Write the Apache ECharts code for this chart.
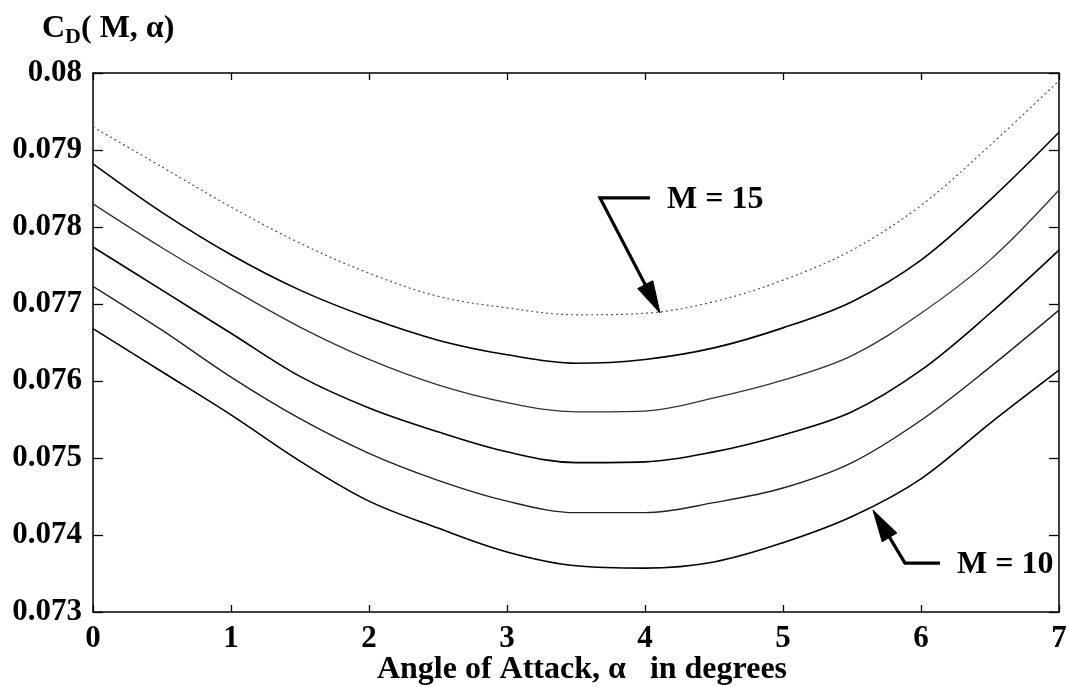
<!DOCTYPE html>
<html>
<head>
<meta charset="utf-8">
<script src="https://cdn.jsdelivr.net/npm/echarts@6/dist/echarts.min.js"></script>
<style>
html,body{margin:0;padding:0;background:#fff;}
#main{width:1069px;height:687px;}
</style>
</head>
<body>
<div id="main"></div>
<script>
// ---- data ----
const alpha = [0, 0.5, 1, 1.5, 2, 2.5, 3, 3.5, 4, 4.5, 5, 5.5, 6, 6.5, 7];
const cdM15 = [0.07930, 0.07878, 0.07826, 0.07779, 0.07740, 0.07710, 0.07695, 0.07686, 0.07688, 0.07703, 0.07731, 0.07770, 0.07828, 0.07906, 0.07990];
const cdM14 = [0.07882, 0.07819, 0.07764, 0.07718, 0.07682, 0.07653, 0.07634, 0.07623, 0.07628, 0.07643, 0.07669, 0.07703, 0.07757, 0.07835, 0.07923];
const cdM13 = [0.07830, 0.07773, 0.07720, 0.07670, 0.07628, 0.07595, 0.07572, 0.07560, 0.07561, 0.07578, 0.07601, 0.07633, 0.07688, 0.07757, 0.07848];
const cdM12 = [0.07774, 0.07718, 0.07662, 0.07606, 0.07565, 0.07534, 0.07508, 0.07494, 0.07495, 0.07508, 0.07530, 0.07560, 0.07614, 0.07688, 0.07770];
const cdM11 = [0.07723, 0.07666, 0.07605, 0.07551, 0.07506, 0.07471, 0.07444, 0.07429, 0.07429, 0.07442, 0.07461, 0.07494, 0.07549, 0.07618, 0.07692];
const cdM10 = [0.07668, 0.07612, 0.07556, 0.07496, 0.07444, 0.07409, 0.07378, 0.07360, 0.07357, 0.07365, 0.07390, 0.07424, 0.07473, 0.07545, 0.07614];
const xTicks = [0, 1, 2, 3, 4, 5, 6, 7];
const yRange = [0.073, 0.080];
// annotations: label, elbow end (text side), elbow corner, arrow tip  (data units)
const annoLabels = ['M = 15', 'M = 10'];
const annoEnd = [[4.036, 0.078377], [6.138, 0.073636]];
const annoCorner = [[3.674, 0.078377], [5.884, 0.073636]];
const annoTip = [[4.109, 0.076883], [5.652, 0.074325]];

const FONT = '"Liberation Serif", "Times New Roman", serif';
function pairs(ys){ return alpha.map((x,i)=>[x, ys[i]]); }

const chart = echarts.init(document.getElementById('main'), null, {renderer:'canvas'});
const axisLine = {show:true, onZero:false, lineStyle:{color:'#000', width:1.5}};
const tickX = {show:true, inside:true, length:7, lineStyle:{color:'#000', width:1.3}};
const tickY = {show:true, inside:true, length:10, lineStyle:{color:'#000', width:1.3}};
function mkSeries(name, ys, color, width, type){
  return {name, type:'line', data:pairs(ys), xAxisIndex:0, yAxisIndex:0, showSymbol:false,
    smooth:0.35, animation:false, silent:true,
    lineStyle:{color, width, type}};
}
const option = {
  animation:false,
  backgroundColor:'#fff',
  title:{
    text:'C{sub|D}( M, α)',
    left:37, top:5,
    textStyle:{fontFamily:FONT, fontSize:32, fontWeight:'bold', color:'#000',
      rich:{sub:{fontFamily:FONT, fontSize:22, fontWeight:'bold', color:'#000', verticalAlign:'bottom', padding:[16,0,0,0]}}}
  },
  grid:{left:93, right:10, top:73, bottom:75, containLabel:false, outerBoundsMode:'none'},
  xAxis:[
    {type:'value', min:0, max:7, interval:1, position:'bottom',
     axisLine, axisTick:tickX,
     axisLabel:{fontFamily:FONT, fontSize:31, fontWeight:'bold', color:'#000', margin:11},
     splitLine:{show:false},
     name:'Angle of Attack, α   in degrees', nameLocation:'middle', nameGap:42, nameMoveOverlap:false,
     nameTextStyle:{fontFamily:FONT, fontSize:32, fontWeight:'bold', color:'#000', padding:[0,0,0,12]}},
    {type:'value', min:0, max:7, interval:1, position:'top',
     axisLine, axisTick:tickX,
     axisLabel:{show:false}, splitLine:{show:false}}
  ],
  yAxis:[
    {type:'value', min:yRange[0], max:yRange[1], interval:0.001, position:'left',
     axisLine, axisTick:tickY,
     axisLabel:{fontFamily:FONT, fontSize:31, fontWeight:'bold', color:'#000', margin:11,
       formatter:v=>String(+v.toFixed(3))},
     splitLine:{show:false}},
    {type:'value', min:yRange[0], max:yRange[1], interval:0.001, position:'right',
     axisLine, axisTick:tickY,
     axisLabel:{show:false}, splitLine:{show:false}}
  ],
  series:[
    mkSeries('M=15', cdM15, '#555', 1.2, [2,3]),
    mkSeries('M=14', cdM14, '#000', 1.6, 'solid'),
    mkSeries('M=13', cdM13, '#333', 1.3, 'solid'),
    mkSeries('M=12', cdM12, '#000', 1.6, 'solid'),
    mkSeries('M=11', cdM11, '#222', 1.4, 'solid'),
    mkSeries('M=10', cdM10, '#000', 1.6, 'solid')
  ]
};
chart.setOption(option);

function px(p){ return chart.convertToPixel({xAxisIndex:0, yAxisIndex:0}, p); }
const graphics = [];
annoLabels.forEach((lab, i)=>{
  const E = px(annoEnd[i]), C = px(annoCorner[i]), T = px(annoTip[i]);
  const dx = T[0]-C[0], dy = T[1]-C[1], len = Math.hypot(dx,dy);
  const ux = dx/len, uy = dy/len, nx = -uy, ny = ux;
  const L = 32, W = 8.5;
  const B = [T[0]-ux*L, T[1]-uy*L];
  graphics.push({type:'polyline', shape:{points:[E, C, [B[0]+ux*4, B[1]+uy*4]]},
    style:{stroke:'#000', lineWidth:3.2, fill:null, lineJoin:'miter'}, silent:true});
  graphics.push({type:'polygon', shape:{points:[T, [B[0]+nx*W, B[1]+ny*W], [B[0]-nx*W, B[1]-ny*W]]},
    style:{fill:'#000', stroke:'#000', lineWidth:1}, silent:true});
  graphics.push({type:'text', x:E[0]+17, y:E[1]+2,
    style:{text:lab, fontFamily:FONT, fontSize:32, fontWeight:'bold', fill:'#000', verticalAlign:'middle', align:'left'}, silent:true});
});
chart.setOption({graphic:graphics});
</script>
</body>
</html>
